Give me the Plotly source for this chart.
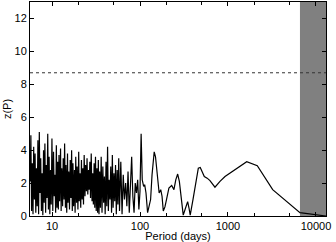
import math
import plotly.graph_objects as go

# ---- data ----
period_short = [5.65, 5.75, 5.86, 5.97, 6.08, 6.19, 6.31, 6.42, 6.54, 6.66,
                6.79, 6.91, 7.04, 7.17, 7.30, 7.44, 7.58, 7.72, 7.86, 8.01,
                8.15, 8.30, 8.46, 8.62, 8.78, 8.94, 9.10, 9.27, 9.44, 9.62,
                9.80, 9.98, 10.2, 10.4, 10.6, 10.8, 11.0, 11.2, 11.4, 11.6,
                11.8, 12.0, 12.2, 12.5, 12.7, 12.9, 13.2, 13.4, 13.7, 13.9,
                14.2, 14.4, 14.7, 15.0, 15.2, 15.5, 15.8, 16.1, 16.4, 16.7,
                17.0, 17.3, 17.6, 18.0, 18.3, 18.6, 19.0, 19.3, 19.7, 20.1,
                20.4, 20.8, 21.2, 21.6, 22.0, 22.4, 22.8, 23.2, 23.7, 24.1,
                24.6, 25.0, 25.5, 26.0, 26.4, 26.9, 27.4, 27.9, 28.5, 29.0,
                29.5, 30.1, 30.6, 31.2, 31.8, 32.4, 33.0, 33.6, 34.2, 34.8]
power_short = [2.1, 4.9, 0.3, 3.2, 0.1, 4.2, 1.0, 3.8, 0.2, 2.9,
               0.6, 4.6, 0.1, 5.1, 1.4, 3.5, 0.3, 2.6, 0.05, 4.0,
               0.8, 4.4, 0.2, 3.1, 1.1, 5.0, 0.4, 3.6, 0.1, 2.8,
               0.7, 4.7, 0.3, 3.9, 1.2, 2.5, 0.2, 4.3, 0.5, 3.3,
               0.4, 3.7, 0.9, 4.1, 0.3, 2.9, 0.6, 3.5, 1.0, 4.4,
               0.5, 3.1, 0.2, 3.8, 0.8, 2.7, 0.4, 3.4, 1.1, 4.0,
               0.3, 3.2, 0.6, 2.8, 0.2, 3.6, 0.8, 3.0, 0.4, 3.9,
               0.9, 2.6, 0.5, 3.4, 1.0, 2.9, 0.7, 3.7, 1.2, 3.1,
               1.5, 3.5, 1.3, 2.8, 1.6, 3.3, 1.1, 3.8, 0.9, 2.6,
               0.7, 3.2, 0.5, 3.6, 0.3, 2.9, 0.2, 3.4, 0.1, 2.7]

period_mid = [35.5, 36.2, 37.0, 37.8, 38.6, 39.4, 40.2, 41.1, 41.9, 42.8,
              43.7, 44.6, 45.6, 46.5, 47.5, 48.5, 49.5, 50.6, 51.6, 52.7,
              53.8, 55.0, 56.1, 57.3, 58.5, 59.7,
              60.5, 62.5, 64.5, 66.5, 68.7, 70.9, 73.1, 75.5, 77.9, 80.4,
              82.9, 85.6, 88.3, 91.2, 94.1, 97.1]
power_mid = [0.5, 3.6, 0.2, 3.0, 0.8, 2.4, 0.1, 3.3, 0.6, 4.2,
             0.3, 2.2, 1.0, 3.0, 0.2, 3.7, 0.5, 2.6, 0.9, 3.1,
             0.1, 2.8, 0.7, 3.5, 0.3, 2.4,
             3.3, 0.1, 2.5, 1.0, 2.0, 0.6, 2.7, 0.2, 2.5, 3.6,
             1.2, 0.2, 2.0, 1.4, 2.2, 0.4]

period_long = [100, 103, 106, 110, 113, 117, 122, 127, 132, 137,
               145, 150, 157, 165, 172, 178, 184, 192, 200, 213,
               229, 243, 255, 268, 280, 295, 310, 330, 348, 360,
               372, 400, 430, 460, 484, 510, 538, 580, 624, 711,
               760, 811, 925, 1202, 1632, 2153, 3220, 6577, 13000]
power_long = [1.5, 5.0, 2.2, 1.8, 1.9, 1.4, 0.2, 0.6, 1.0, 2.5,
              3.9, 3.6, 2.4, 1.4, 1.6, 1.2, 0.3, 0.55, 1.0, 1.7,
              1.85, 1.6, 2.2, 2.55, 2.1, 1.0, 0.05, 0.5, 0.87, 0.5,
              0.05, 1.0, 2.1, 2.9, 2.95, 2.65, 2.4, 2.3, 2.15, 1.75,
              1.95, 2.1, 2.4, 2.8, 3.3, 3.05, 1.6, 0.2, 0.0]

threshold = 8.7          # false-alarm level (dotted line)
band_start = 6577        # start of shaded period range
x_min, x_max = 5.62, 13000
y_max = 13
x_tick_vals = [10, 100, 1000, 10000]
x_tick_text = ["10", "100", "1000", "10000"]
x_minor_vals = [20, 50, 200, 500, 2000, 5000]
y_tick_vals = [0, 2, 4, 6, 8, 10, 12]

period = period_short + period_mid + period_long
power = power_short + power_mid + power_long

FONT = "Liberation Sans, Arial, Helvetica, sans-serif"

fig = go.Figure()
fig.add_trace(go.Scatter(
    x=[band_start, x_max, x_max, band_start], y=[0, 0, y_max, y_max],
    fill="toself", fillcolor="#808080", mode="lines",
    line=dict(width=0), hoverinfo="skip", showlegend=False))
fig.add_trace(go.Scatter(
    x=[x_min, x_max], y=[threshold, threshold], mode="lines",
    line=dict(color="#333333", width=1, dash="dot"), showlegend=False))
fig.add_trace(go.Scatter(
    x=period, y=power, mode="lines",
    line=dict(color="black", width=1.2), showlegend=False))

fig.update_layout(
    width=336, height=242,
    margin=dict(l=30, r=10, t=2, b=26),
    paper_bgcolor="white", plot_bgcolor="white",
    font=dict(family=FONT, size=11, color="black"),
    showlegend=False,
    xaxis=dict(
        type="log", range=[math.log10(x_min), math.log10(x_max)],
        tickvals=x_tick_vals, ticktext=x_tick_text,
        ticks="inside", ticklen=4, tickcolor="black",
        minor=dict(tickvals=x_minor_vals, ticks="inside", ticklen=3, tickcolor="black"),
        showline=True, linecolor="black", linewidth=1, mirror="ticks",
        showgrid=False, zeroline=False,
        title=dict(text="Period (days)", standoff=0, font=dict(size=11)),
        automargin=False, tickfont=dict(size=11),
    ),
    yaxis=dict(
        range=[0, y_max], tickvals=y_tick_vals,
        ticks="inside", ticklen=4, tickcolor="black",
        showline=True, linecolor="black", linewidth=1, mirror="ticks",
        showgrid=False, zeroline=False,
        title=dict(text="z(P)", standoff=0, font=dict(size=11)),
        automargin=False, tickfont=dict(size=11),
    ),
)

fig.write_html("out.html", config={"displayModeBar": False},
               post_script="document.body.style.margin='0px';document.body.style.overflow='hidden';")
